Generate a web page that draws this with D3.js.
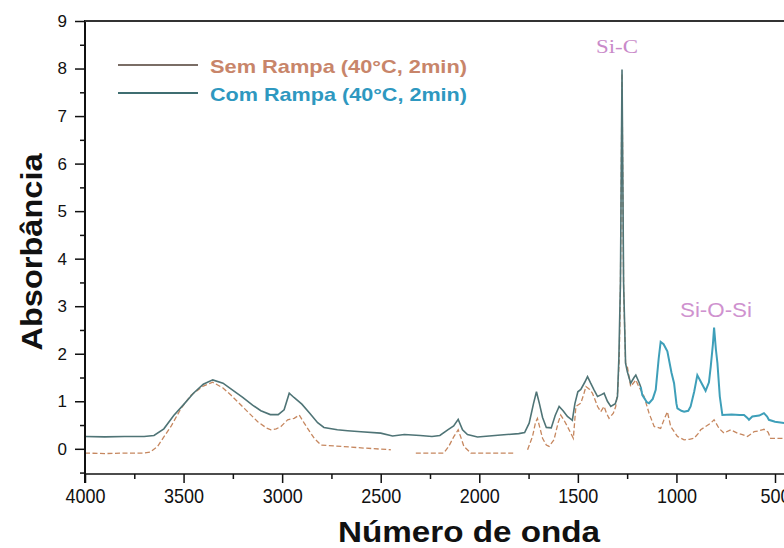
<!DOCTYPE html>
<html><head><meta charset="utf-8">
<script src="https://cdn.jsdelivr.net/npm/d3@7"></script>
<style>body{margin:0;background:#fff}svg{display:block}</style>
</head><body>
<svg id="chart" width="784" height="548"></svg>
<script>
// ---------- data ----------
const seriesNames = ["Sem Rampa (40°C, 2min)", "Com Rampa (40°C, 2min)"];
const xTicks = [4000, 3500, 3000, 2500, 2000, 1500, 1000, 500];
const yTicks = [0, 1, 2, 3, 4, 5, 6, 7, 8, 9];
const annotations = ["Si-C", "Si-O-Si"];

const comWave = [4000,3900,3800,3700,3650,3600,3550,3500,3450,3400,3352,3300,3260,3200,3150,3108,3060,3020,2990,2964,2940,2900,2860,2820,2788,2720,2668,2600,2500,2440,2380,2300,2240,2200,2160,2130,2107,2085,2060,2009,1950,1891,1800,1770,1747,1725,1710,1695,1679,1660,1635,1615,1595,1575,1553,1528,1515,1500,1485,1465,1451,1435,1418,1400,1380,1367,1350,1333,1310,1299,1292,1284,1276,1268,1258,1249,1232,1215,1206,1190,1181,1173,1150,1139,1120,1105,1090,1080,1065,1046,1025,1012,1000,995,975,961,940,928,910,894,875,852,835,826,815,809,800,792,780,767,720,680,657,640,632,615,580,556,540,531,500,450];
const comAbs = [0.26,0.25,0.26,0.26,0.28,0.42,0.70,0.93,1.17,1.36,1.45,1.38,1.26,1.08,0.92,0.80,0.72,0.72,0.82,1.17,1.08,0.94,0.75,0.55,0.45,0.40,0.38,0.36,0.33,0.27,0.30,0.28,0.26,0.28,0.40,0.48,0.62,0.40,0.30,0.25,0.27,0.29,0.32,0.34,0.54,0.95,1.20,0.95,0.66,0.45,0.44,0.70,0.89,0.80,0.68,0.60,0.95,1.20,1.25,1.40,1.52,1.38,1.24,1.10,1.14,1.17,1.00,0.89,0.95,1.10,1.90,3.50,7.98,3.50,1.80,1.62,1.38,1.50,1.55,1.40,1.30,1.13,0.98,0.96,1.05,1.24,1.90,2.25,2.20,2.05,1.60,1.38,0.95,0.85,0.80,0.78,0.80,0.89,1.20,1.55,1.40,1.22,1.40,1.73,2.20,2.55,2.10,1.80,1.10,0.71,0.72,0.71,0.71,0.65,0.61,0.68,0.70,0.75,0.68,0.61,0.57,0.54];

const semWave = [4000,3900,3800,3700,3670,3632,3600,3564,3513,3462,3400,3352,3300,3260,3192,3124,3080,3057,3030,3006,2972,2939,2913,2888,2860,2837,2803,2700,2600,2449,2400,2322,2250,2180,2155,2130,2107,2090,2078,2043,1950,1825,1790,1755,1730,1715,1705,1690,1679,1660,1646,1621,1600,1587,1570,1553,1523,1510,1485,1470,1459,1440,1426,1410,1400,1384,1367,1355,1342,1320,1308,1298,1290,1284,1276,1268,1258,1249,1232,1215,1206,1190,1181,1164,1139,1113,1080,1063,1046,1029,995,961,935,911,890,877,852,826,809,784,759,725,691,665,640,606,580,556,535,522,480,450];
const semAbs = [-0.09,-0.10,-0.09,-0.09,-0.07,0.05,0.25,0.47,0.85,1.13,1.32,1.40,1.28,1.13,0.85,0.57,0.44,0.40,0.42,0.47,0.61,0.64,0.71,0.54,0.36,0.22,0.08,0.05,0.02,-0.02,null,-0.09,-0.09,-0.09,0.05,0.25,0.40,0.20,0.05,-0.09,-0.09,-0.09,null,-0.02,0.26,0.55,0.64,0.40,0.22,0.08,0.05,0.19,0.55,0.71,0.60,0.47,0.22,0.89,0.96,1.15,1.31,1.25,1.17,1.00,0.89,0.78,0.89,0.75,0.64,0.75,0.89,1.20,1.90,3.40,7.90,3.40,1.80,1.73,1.31,1.40,1.45,1.30,1.24,1.10,0.75,0.47,0.43,0.61,0.78,0.47,0.26,0.19,0.20,0.22,0.32,0.40,0.47,0.54,0.61,0.43,0.33,0.40,0.33,0.30,0.26,0.36,0.38,0.41,0.35,0.22,0.22,0.22];

// ---------- layout ----------
const svg = d3.select("#chart");
const x = d3.scaleLinear().domain([4000, 500]).range([85, 775]);
const y = d3.scaleLinear().domain([-0.53, 9]).range([474, 21]);
const font = "'Liberation Sans', Arial, sans-serif";

const com = comWave.map((w, i) => ({w, v: comAbs[i]}));
const sem = semWave.map((w, i) => ({w, v: semAbs[i]}));

const line = d3.line().defined(d => d.v != null).x(d => x(d.w)).y(d => y(d.v));

// series: Sem Rampa (dashed)
svg.append("path").datum(sem).attr("d", line)
  .attr("fill", "none").attr("stroke", "#c6875f").attr("stroke-width", 1.3)
  .attr("stroke-dasharray", "5,2.5");

// series: Com Rampa — overlapping part drawn darker, free part teal
svg.append("path").datum(com.filter(d => d.w >= 1181)).attr("d", line)
  .attr("fill", "none").attr("stroke", "#4f7476").attr("stroke-width", 1.6);
svg.append("path").datum(com.filter(d => d.w <= 1181)).attr("d", line)
  .attr("fill", "none").attr("stroke", "#3e9fb9").attr("stroke-width", 2);

// ---------- axes ----------
const gx = svg.append("g").attr("transform", "translate(0,474)");
gx.call(d3.axisBottom(x).tickValues(xTicks).tickSize(9).tickFormat(d3.format("d")));
gx.append("g").call(d3.axisBottom(x).tickValues(d3.range(3750, 400, -500)).tickSize(5).tickFormat(""));
gx.selectAll(".domain").remove();
gx.append("line").attr("x1", 85).attr("x2", 784).attr("stroke", "#111").attr("stroke-width", 1.5);
gx.selectAll(".tick line").attr("stroke", "#111").attr("stroke-width", 1.5);
gx.selectAll(".tick text").attr("font-family", font).attr("font-size", 21)
  .attr("fill", "#111").attr("dy", "0.76em").attr("y", 13)
  .attr("textLength", d => String(d).length * 10).attr("lengthAdjust", "spacingAndGlyphs");

const gy = svg.append("g").attr("transform", "translate(85,0)");
gy.call(d3.axisLeft(y).tickValues(yTicks).tickSize(10).tickFormat(d3.format("d")));
gy.append("g").call(d3.axisLeft(y).tickValues(d3.range(-0.5, 9, 1)).tickSize(5).tickFormat(""));
gy.selectAll(".domain").remove();
gy.append("line").attr("y1", 20).attr("y2", 483).attr("stroke", "#111").attr("stroke-width", 2);
gy.selectAll(".tick line").attr("stroke", "#111").attr("stroke-width", 1.5);
gy.selectAll(".tick text").attr("font-family", font).attr("font-size", 17)
  .attr("fill", "#111").attr("x", -18);

// top frame
svg.append("line").attr("x1", 85).attr("x2", 784).attr("y1", 21).attr("y2", 21)
  .attr("stroke", "#333").attr("stroke-width", 2);

// axis titles
svg.append("text").text("Número de onda")
  .attr("x", 469).attr("y", 542).attr("text-anchor", "middle")
  .attr("font-family", font).attr("font-weight", "bold").attr("font-size", 29)
  .attr("textLength", 262).attr("lengthAdjust", "spacingAndGlyphs").attr("fill", "#111");
svg.append("text").text("Absorbância")
  .attr("transform", "translate(42,252) rotate(-90)").attr("text-anchor", "middle")
  .attr("font-family", font).attr("font-weight", "bold").attr("font-size", 29)
  .attr("textLength", 197).attr("lengthAdjust", "spacingAndGlyphs").attr("fill", "#111");

// legend
const legColors = ["#c8856a", "#2e98c0"];
const legLine = ["#7a6d66", "#3f6e71"];
const legY = [65, 93];
seriesNames.forEach((name, i) => {
  svg.append("line").attr("x1", 118).attr("x2", 198).attr("y1", legY[i]).attr("y2", legY[i])
    .attr("stroke", legLine[i]).attr("stroke-width", 1.8);
  svg.append("text").text(name).attr("x", 210).attr("y", legY[i] + 8)
    .attr("font-family", font).attr("font-weight", "bold").attr("font-size", 19)
    .attr("textLength", 257).attr("lengthAdjust", "spacingAndGlyphs").attr("fill", legColors[i]);
});

// annotations
svg.append("text").text(annotations[0]).attr("x", 617).attr("y", 53).attr("text-anchor", "middle")
  .attr("font-family", "'Liberation Serif', 'Times New Roman', serif").attr("font-size", 18)
  .attr("textLength", 42).attr("lengthAdjust", "spacingAndGlyphs").attr("fill", "#c98ac9");
svg.append("text").text(annotations[1]).attr("x", 716).attr("y", 317).attr("text-anchor", "middle")
  .attr("font-family", font).attr("font-size", 20)
  .attr("textLength", 72).attr("lengthAdjust", "spacingAndGlyphs").attr("fill", "#cf92cf");
</script>
</body></html>
